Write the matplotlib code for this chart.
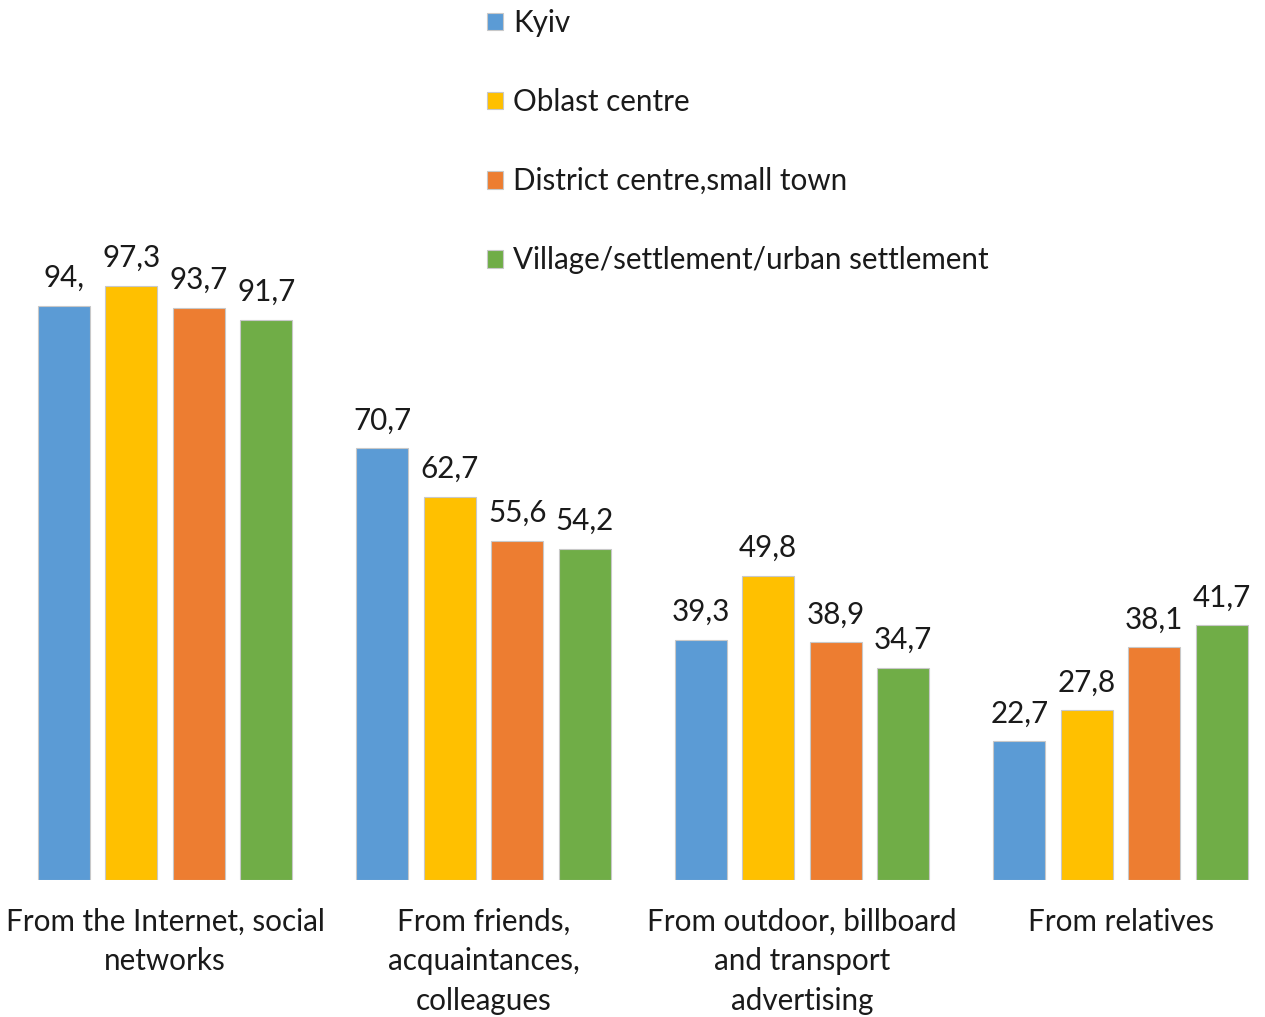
import matplotlib
matplotlib.use("Agg")
import matplotlib.pyplot as plt
import numpy as np

plt.rcParams['font.family'] = ['Lato', 'DejaVu Sans']

categories = [
    "From the Internet, social\nnetworks",
    "From friends,\nacquaintances,\ncolleagues",
    "From outdoor, billboard\nand transport\nadvertising",
    "From relatives",
]
series_names = [
    "Kyiv",
    "Oblast centre",
    "District centre,small town",
    "Village/settlement/urban settlement",
]
kyiv = [94.0, 70.7, 39.3, 22.7]
oblast_centre = [97.3, 62.7, 49.8, 27.8]
district_centre = [93.7, 55.6, 38.9, 38.1]
village = [91.7, 54.2, 34.7, 41.7]
value_labels = [
    ["94,", "70,7", "39,3", "22,7"],
    ["97,3", "62,7", "49,8", "27,8"],
    ["93,7", "55,6", "38,9", "38,1"],
    ["91,7", "54,2", "34,7", "41,7"],
]
series = [kyiv, oblast_centre, district_centre, village]
colors = ["#5B9BD5", "#FFC000", "#ED7D31", "#70AD47"]

fig = plt.figure(figsize=(12.65, 10.17), dpi=100)
ax = fig.add_axes([0, 1 - 880 / 1017, 1, 880 / 1017])

x = np.arange(len(categories))
step = 0.212
width = 0.164
fs = 21.3

handles = []
for i, (vals, col, name) in enumerate(zip(series, colors, series_names)):
    pos = x + (i - 1.5) * step
    bars = ax.bar(pos, vals, width, color=col, edgecolor="#c8c8c8",
                  linewidth=0.8, label=name)
    handles.append(bars)
    for p, v, lab in zip(pos, vals, value_labels[i]):
        ax.annotate(lab, (p, v), xytext=(0, 10), textcoords="offset points",
                    ha="center", va="bottom", fontsize=fs, color="#1a1a1a")

ax.set_xlim(-165 / 318.5, (1265 - 165) / 318.5)
ax.set_ylim(0, 880 / 6.106)
for s in ax.spines.values():
    s.set_visible(False)
ax.set_yticks([])
ax.set_xticks(x)
ax.set_xticklabels(categories, fontsize=fs, color="#1a1a1a", linespacing=1.5)
ax.tick_params(axis="x", length=0, pad=20)

leg = fig.legend(handles=handles, labels=series_names, loc="upper left",
                 bbox_to_anchor=(475 / 1265, 1 + 3 / 1017), frameon=False,
                 fontsize=fs, labelspacing=1.73, handlelength=0.54,
                 handleheight=0.54, handletextpad=0.34, borderaxespad=0)
for t in leg.get_texts():
    t.set_color("#1a1a1a")

fig.savefig("out.png", dpi=100, facecolor="white")
